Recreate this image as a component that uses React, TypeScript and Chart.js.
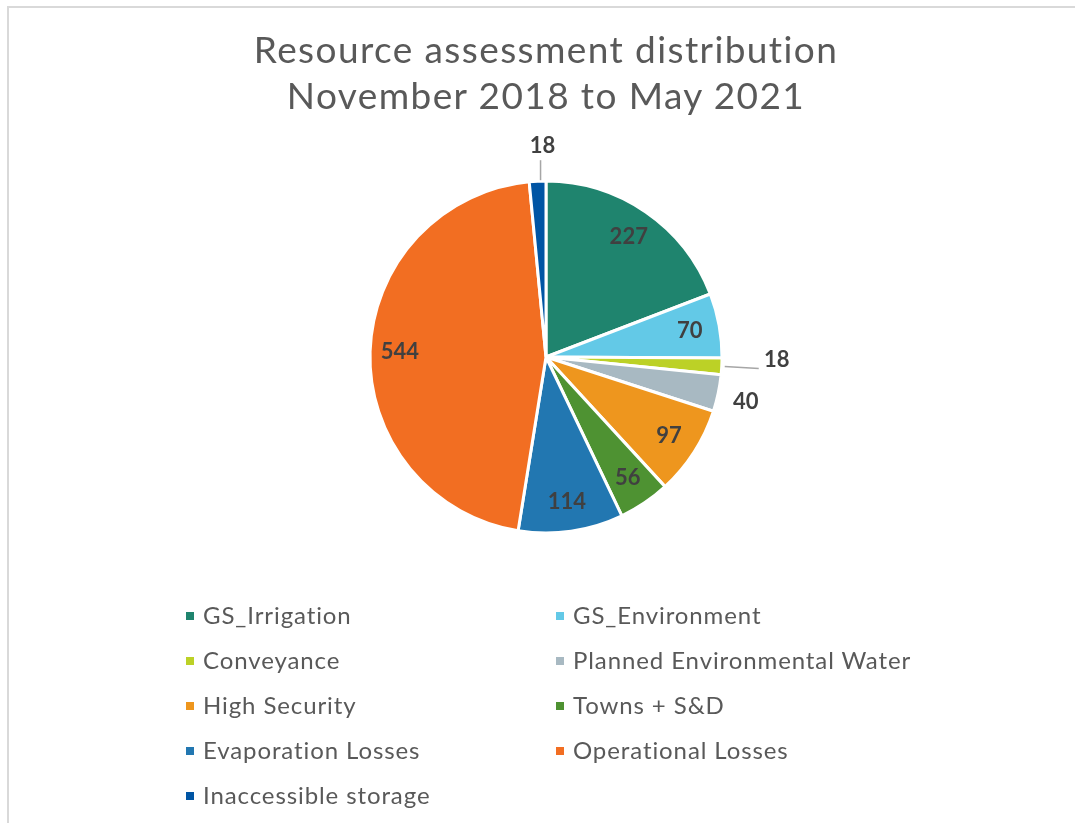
import React, { useEffect, useRef } from "react";
import { Chart, registerables } from "chart.js";

Chart.register(...registerables);

const categories = [
  "GS_Irrigation",
  "GS_Environment",
  "Conveyance",
  "Planned Environmental Water",
  "High Security",
  "Towns + S&D",
  "Evaporation Losses",
  "Operational Losses",
  "Inaccessible storage",
];
const values = [227, 70, 18, 40, 97, 56, 114, 544, 18];
const colors = [
  "#1F846E",
  "#63C9E7",
  "#BCD126",
  "#A8B9C2",
  "#EE961E",
  "#4E9232",
  "#2277B1",
  "#F26E22",
  "#0055A4",
];
const labelPlacement = [
  "inside",
  "inside",
  "leaderRight",
  "outside",
  "inside",
  "inside",
  "inside",
  "inside",
  "leaderUp",
];
const titleLines = ["Resource assessment distribution", "November 2018 to May 2021"];

const FONT = "Lato, 'Open Sans', sans-serif";

const valueLabels = {
  id: "valueLabels",
  afterDatasetsDraw(chart: any) {
    const ctx = chart.ctx as CanvasRenderingContext2D;
    const meta = chart.getDatasetMeta(0);
    ctx.save();
    ctx.font = `bold 22px ${FONT}`;
    ctx.fillStyle = "#404040";
    ctx.textAlign = "center";
    ctx.textBaseline = "middle";
    ctx.strokeStyle = "#a6a6a6";
    ctx.lineWidth = 1.5;
    meta.data.forEach((arc: any, i: number) => {
      const { x, y, startAngle, endAngle, outerRadius } = arc.getProps(
        ["x", "y", "startAngle", "endAngle", "outerRadius"],
        true
      );
      const mid = (startAngle + endAngle) / 2;
      const c = Math.cos(mid);
      const s = Math.sin(mid);
      const text = String(values[i]);
      const mode = labelPlacement[i];
      if (mode === "inside") {
        const r = outerRadius * 0.83;
        ctx.fillText(text, x + c * r, y + s * r);
      } else if (mode === "outside") {
        const r = outerRadius + 28;
        ctx.fillText(text, x + c * r, y + s * r + 3);
      } else if (mode === "leaderRight") {
        const sx = x + c * (outerRadius + 3);
        const sy = y + s * (outerRadius + 3);
        const ex = sx + 34;
        const ey = sy + 2;
        ctx.beginPath();
        ctx.moveTo(sx, sy);
        ctx.lineTo(ex, ey);
        ctx.stroke();
        ctx.fillText(text, ex + 18, ey - 9);
      } else if (mode === "leaderUp") {
        const sx = x + c * (outerRadius + 1) + 3;
        const sy = y + s * (outerRadius + 1);
        const ex = sx;
        const ey = sy - 20;
        ctx.beginPath();
        ctx.moveTo(sx, sy);
        ctx.lineTo(ex, ey);
        ctx.stroke();
        ctx.fillText(text, ex + 2, ey - 14);
      }
    });
    ctx.restore();
  },
};

export default function App() {
  const canvasRef = useRef<HTMLCanvasElement | null>(null);

  useEffect(() => {
    if (!canvasRef.current) return;
    const chart = new Chart(canvasRef.current, {
      type: "pie",
      data: {
        labels: categories,
        datasets: [
          {
            data: values,
            backgroundColor: colors,
            borderColor: "#ffffff",
            borderWidth: 3,
          },
        ],
      },
      options: {
        responsive: false,
        animation: false,
        radius: 176,
        layout: { padding: { left: 296, right: 279, top: 157, bottom: 266 } },
        plugins: {
          legend: { display: false },
          tooltip: { enabled: false },
          title: { display: false },
        },
      } as any,
      plugins: [valueLabels],
    });
    return () => chart.destroy();
  }, []);

  return (
    <div
      style={{
        position: "fixed",
        left: 0,
        top: 0,
        width: 1075,
        height: 823,
        overflow: "hidden",
        background: "#ffffff",
        fontFamily: FONT,
      }}
    >
      <div
        style={{
          position: "absolute",
          left: 7,
          top: 6,
          width: 1200,
          height: 1000,
          border: "2px solid #d9d9d9",
          boxSizing: "border-box",
        }}
      />
      <canvas
        ref={canvasRef}
        width={1075}
        height={823}
        style={{ position: "absolute", left: 0, top: 0 }}
      />
      <div
        style={{
          position: "absolute",
          left: 0,
          top: 26,
          width: 1092,
          textAlign: "center",
          fontSize: 37,
          letterSpacing: "1.4px",
          lineHeight: "46px",
          color: "#595959",
        }}
      >
        {titleLines.map((t) => (
          <div key={t}>{t}</div>
        ))}
      </div>
      {categories.map((name, i) => {
        const col = i % 2;
        const row = Math.floor(i / 2);
        const cy = 616 + row * 45;
        const mx = col === 0 ? 186 : 556;
        return (
          <div key={name}>
            <div
              style={{
                position: "absolute",
                left: mx,
                top: cy - 4,
                width: 8,
                height: 8,
                background: colors[i],
              }}
            />
            <div
              style={{
                position: "absolute",
                left: mx + 17,
                top: cy - 13,
                fontSize: 24,
                letterSpacing: "0.9px",
                lineHeight: "24px",
                color: "#595959",
                whiteSpace: "nowrap",
              }}
            >
              {name}
            </div>
          </div>
        );
      })}
    </div>
  );
}
